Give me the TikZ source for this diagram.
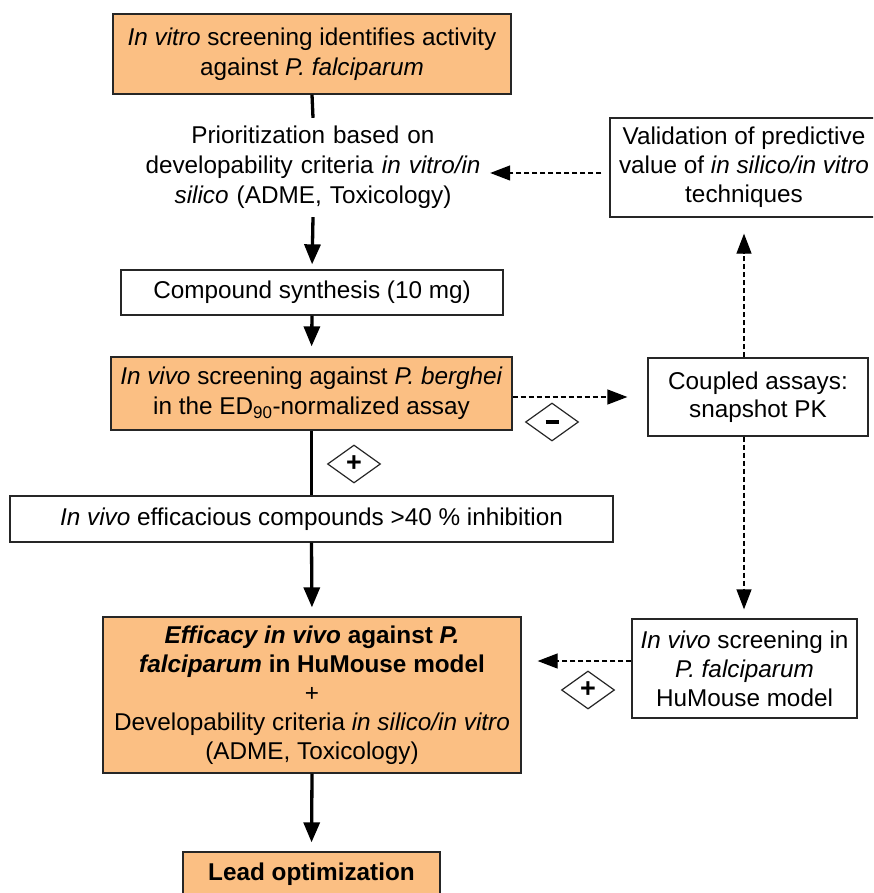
\documentclass[tikz,border=0pt]{standalone}
\usepackage{fontspec}
\setmainfont{Liberation Sans}
\usetikzlibrary{arrows.meta,shapes.geometric,calc}
\definecolor{orng}{RGB}{251,191,131}
\begin{document}
\begin{tikzpicture}[x=1pt,y=-1pt,
  box/.style={draw=black!85,line width=1.3pt,align=center,inner sep=0pt,
    font=\fontsize{24.3}{30}\selectfont},
  obox/.style={box,fill=orng},
  plain/.style={align=center,inner sep=0pt,font=\fontsize{24.3}{30}\selectfont},
  solidline/.style={line width=3.3pt},
  solidarrow/.style={line width=3.3pt,-{Triangle[length=20pt,width=16pt]}},
  dasharrow/.style={line width=1.3pt,dash pattern=on 5pt off 3pt,-{Triangle[length=20pt,width=15pt]}},
  sign/.style={diamond,draw=black!85,line width=1.2pt,fill=white,inner sep=0pt,
    minimum width=53pt,minimum height=38pt,font=\fontsize{27}{27}\selectfont\bfseries}]
\clip (0,0) rectangle (873,893);
\fill[white] (0,0) rectangle (873,893);

% main column
\node[obox,minimum width=398pt,minimum height=80pt] (top) at (312,54)
  {\textit{In vitro} screening identifies activity\\against \textit{P. falciparum}};
\node[plain,text width=354pt,minimum height=99pt] (prio) at (313,167.5)
  {Prioritization based on\\developability criteria \textit{in vitro/in}\\\textit{silico} (ADME, Toxicology)};
\node[box,minimum width=382pt,minimum height=45pt] (comp) at (312,292.5)
  {Compound synthesis (10 mg)};
\node[obox,minimum width=401pt,minimum height=73pt] (invivo) at (311.5,393.5)
  {\textit{In vivo} screening against \textit{P. berghei}\\in the ED\textsubscript{90}-normalized assay};
\node[box,minimum width=603pt,minimum height=46pt] (effic) at (311.5,519)
  {\textit{In vivo} efficacious compounds >40 \% inhibition};
\node[obox,minimum width=418pt,minimum height=156pt,font=\fontsize{24.3}{29}\selectfont] (efficacy) at (312,695)
  {\textbf{\textit{Efficacy in vivo} against \textit{P.}}\\\textbf{\textit{falciparum} in HuMouse model}\\+\\Developability criteria \textit{in silico/in vitro}\\(ADME, Toxicology)};
\node[obox,minimum width=257pt,minimum height=44pt] (lead) at (311.5,874)
  {\textbf{Lead optimization}};

% right column
\node[box,minimum width=268pt,minimum height=99pt,font=\fontsize{24.3}{29}\selectfont] (val) at (744,167.5)
  {Validation of predictive\\value of \textit{in silico/in vitro}\\techniques};
\node[box,minimum width=220pt,minimum height=78pt,font=\fontsize{24.3}{28}\selectfont] (coupled) at (758,397)
  {Coupled assays:\\snapshot PK};
\node[box,minimum width=225pt,minimum height=99pt,font=\fontsize{24.3}{29}\selectfont] (hu) at (744.5,668.5)
  {\textit{In vivo} screening in\\\textit{P. falciparum}\\HuMouse model};

% solid connectors
\draw[solidline] (top.south) -- (prio.north);
\draw[solidarrow,shorten >=5pt] (prio.south) -- (comp.north);
\draw[solidarrow,shorten >=10pt] (comp.south) -- (invivo.north);
\draw[solidline] (invivo.south) -- (effic.north);
\draw[solidarrow,shorten >=9pt] (effic.south) -- (efficacy.north);
\draw[solidarrow,shorten >=9pt] (efficacy.south) -- (lead.north);

% dashed connectors
\draw[dasharrow,shorten <=8pt] ($(val.west)+(0,5.5)$) -- ($(prio.east)+(0,5.5)$);
\draw[dasharrow,shorten >=20pt] (invivo.east |- coupled.west) -- (coupled.west);
\coordinate (ctop) at (coupled.north -| val.south);
\coordinate (cbot) at (coupled.south -| val.south);
\draw[dasharrow,shorten >=16pt] (ctop) -- (val.south);
\draw[dasharrow,shorten >=9pt] (cbot) -- (cbot |- hu.north);
\draw[dasharrow,shorten >=16pt] ($(hu.west)+(0,-7.5)$) -- ($(efficacy.east |- hu.west)+(0,-7.5)$);

% signs
\node[sign] (p1) at (354,464) {+};
\node[sign] (m1) at (552,422) {\rule{13pt}{3.2pt}};
\node[sign] (p2) at (588,690) {+};
\end{tikzpicture}
\end{document}
